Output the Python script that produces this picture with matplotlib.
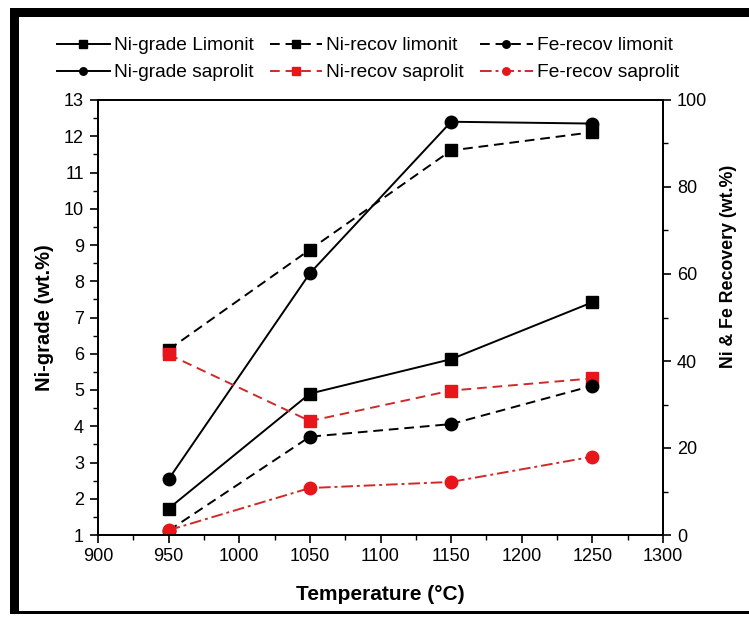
import matplotlib
matplotlib.use('Agg')
import matplotlib.pyplot as plt
from matplotlib.patches import Rectangle
from matplotlib.ticker import MultipleLocator

plt.rcParams['font.family'] = ['Liberation Sans', 'DejaVu Sans']

temperature = [950, 1050, 1150, 1250]
ni_grade_limonit = [1.73, 4.9, 5.85, 7.42]
ni_grade_saprolit = [2.54, 8.22, 12.4, 12.35]
ni_recov_limonit = [42.6, 65.6, 88.4, 92.6]
fe_recov_limonit = [1.0, 22.6, 25.5, 34.3]
ni_recov_saprolit = [41.5, 26.2, 33.2, 36.0]
fe_recov_saprolit = [1.1, 10.8, 12.2, 18.0]

W, H = 749, 619
fig = plt.figure(figsize=(W / 100, H / 100), dpi=100)
fig.patch.set_facecolor('white')

L, R, T, B = 98, 663, 100, 535
ax = fig.add_axes([L / W, (H - B) / H, (R - L) / W, (B - T) / H])
ax2 = ax.twinx()

RED_LINE = '#cf2a2a'
RED_MK = '#e8161b'
lw = 1.4
ms = 9

l1, = ax.plot(temperature, ni_grade_limonit, color='black', ls='-', lw=lw,
              marker='s', ms=ms, label='Ni-grade Limonit')
l2, = ax.plot(temperature, ni_grade_saprolit, color='black', ls='-', lw=lw,
              marker='o', ms=ms, label='Ni-grade saprolit')
l3, = ax2.plot(temperature, ni_recov_limonit, color='black', ls=(0, (5, 3)), lw=lw,
               marker='s', ms=ms, label='Ni-recov limonit')
l4, = ax2.plot(temperature, ni_recov_saprolit, color=RED_LINE, ls=(0, (5, 3)), lw=lw,
               marker='s', ms=ms, mfc=RED_MK, mec=RED_MK, label='Ni-recov saprolit')
l5, = ax2.plot(temperature, fe_recov_limonit, color='black', ls=(0, (5, 3)), lw=lw,
               marker='o', ms=ms, label='Fe-recov limonit')
l6, = ax2.plot(temperature, fe_recov_saprolit, color=RED_LINE, ls=(0, (6, 2, 1.5, 2)), lw=lw,
               marker='o', ms=ms, mfc=RED_MK, mec=RED_MK, label='Fe-recov saprolit')

ax.set_xlim(900, 1300)
ax.set_ylim(1, 13)
ax2.set_ylim(0, 100)

ax.xaxis.set_major_locator(MultipleLocator(50))
ax.xaxis.set_minor_locator(MultipleLocator(25))
ax.yaxis.set_major_locator(MultipleLocator(1))
ax.yaxis.set_minor_locator(MultipleLocator(0.5))
ax2.yaxis.set_major_locator(MultipleLocator(20))
ax2.yaxis.set_minor_locator(MultipleLocator(10))

for a in (ax, ax2):
    for s in a.spines.values():
        s.set_linewidth(1.3)
    a.tick_params(which='major', direction='out', length=6, width=1.2, labelsize=13, colors='black')
    a.tick_params(which='minor', direction='out', length=3.5, width=1.0)
ax.tick_params(axis='x', top=False, which='both')
ax.tick_params(axis='y', right=False, which='both', pad=4)
ax2.tick_params(axis='y', pad=4)

ax.set_xlabel('Temperature (°C)', fontsize=15, fontweight='bold')
ax.xaxis.set_label_coords(0.5, -(585 - B) / (B - T))
ax.set_ylabel('Ni-grade (wt.%)', fontsize=14.5, fontweight='bold', labelpad=7)
ax2.set_ylabel('Ni & Fe Recovery (wt.%)', fontsize=12.8, fontweight='bold')
ax2.yaxis.set_label_coords((720 - L) / (R - L), (B - 266) / (B - T))

handles = [l1, l2, l3, l4, l5, l6]
leg = fig.legend(handles=handles, labels=[h.get_label() for h in handles],
                 ncol=3, loc='upper left', bbox_to_anchor=(57 / W, 1 - 37 / H),
                 frameon=False, fontsize=13.8, handlelength=2.75, handletextpad=0.2,
                 columnspacing=0.85, labelspacing=0.5, markerscale=0.6,
                 borderaxespad=0, borderpad=0)

# black frame around the picture
def px_rect(x0, y0, x1, y1):
    fig.add_artist(Rectangle((x0 / W, 1 - y1 / H), (x1 - x0) / W, (y1 - y0) / H,
                             transform=fig.transFigure, facecolor='black',
                             edgecolor='none', zorder=10))

px_rect(10, 8, 749, 17)
px_rect(10, 8, 19, 614)
px_rect(10, 611, 749, 614)

fig.savefig('out.png', dpi=100)
